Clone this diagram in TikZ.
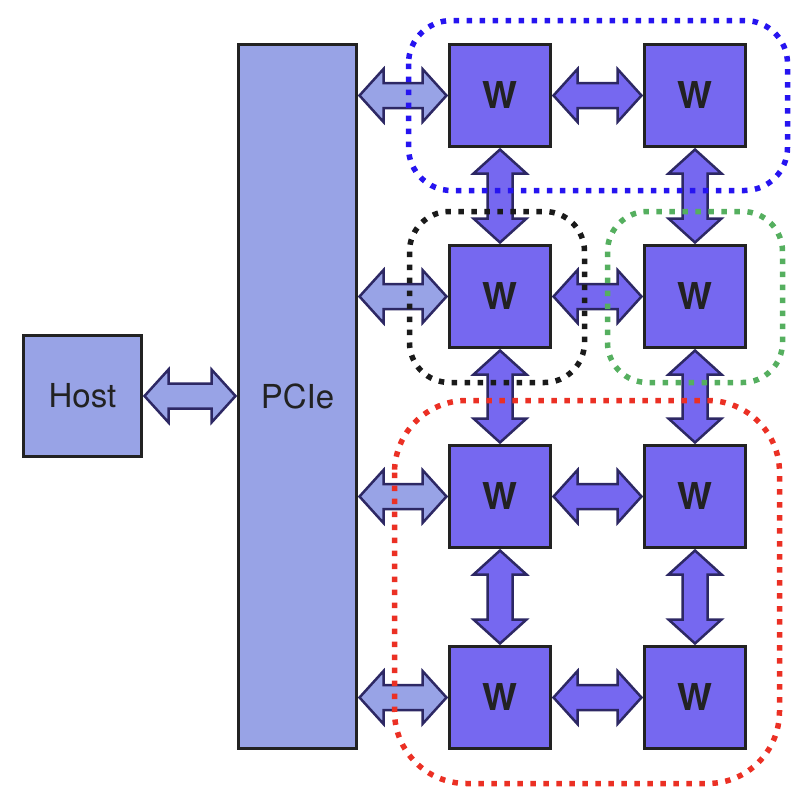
\documentclass[tikz,border=0pt]{standalone}
\usepackage{fontspec}
\setmainfont{TeX Gyre Heros}
\usetikzlibrary{calc}

\definecolor{hostfill}{RGB}{152,163,230}
\definecolor{workerfill}{RGB}{118,104,240}
\definecolor{boxline}{RGB}{34,34,34}
\definecolor{arrowline}{RGB}{45,40,100}
\definecolor{grpblue}{RGB}{38,20,240}
\definecolor{grpblack}{RGB}{26,26,26}
\definecolor{grpgreen}{RGB}{85,175,95}
\definecolor{grpred}{RGB}{235,48,36}

\tikzset{
  box/.style={draw=boxline, line width=3pt, inner sep=0pt, text=boxline},
  hostbox/.style={box, fill=hostfill, font=\fontsize{33}{36}\selectfont},
  worker/.style={box, fill=workerfill, minimum width=101pt, minimum height=102pt,
    font=\bfseries\fontsize{37}{40}\selectfont},
  link/.style={draw=arrowline, line width=2.5pt, line join=miter},
  group/.style={line width=5.5pt, dash pattern=on 5.5pt off 7.5pt, rounded corners=#1},
}

% double block arrow between two points
\newcommand{\biarrow}[3]{%
  \coordinate (s) at ($(#1)!1.5pt!(#2)$);
  \coordinate (t) at ($(#2)!1.5pt!(#1)$);
  \filldraw[link, fill=#3] (s)
    -- ($(s)!24pt!(t)!26.5pt!90:(t)$)
    -- ($(s)!24pt!(t)!12.5pt!90:(t)$)
    -- ($(t)!24pt!(s)!12.5pt!-90:(s)$)
    -- ($(t)!24pt!(s)!26.5pt!-90:(s)$)
    -- (t)
    -- ($(t)!24pt!(s)!26.5pt!90:(s)$)
    -- ($(t)!24pt!(s)!12.5pt!90:(s)$)
    -- ($(s)!24pt!(t)!12.5pt!-90:(t)$)
    -- ($(s)!24pt!(t)!26.5pt!-90:(t)$)
    -- cycle;
}

\begin{document}
\begin{tikzpicture}[x=1pt, y=-1pt]

\useasboundingbox (0,0) rectangle (798,806);

% Host and PCIe
\node[hostbox, minimum width=118pt, minimum height=121pt] (host) at (82.5,396) {Host};
\node[hostbox, minimum width=118pt, minimum height=704pt] (pcie) at (297.5,396.5) {PCIe};

% Workers
\foreach \r/\y in {1/95.5, 2/296.5, 3/496.5, 4/697.5}
  \foreach \c/\x in {1/500, 2/695}
    \node[worker] (w\r\c) at (\x,\y) {W};

% Links
\biarrow{host.east}{host.east -| pcie.west}{hostfill}

\foreach \r in {1,...,4}
  \biarrow{w\r1.west -| pcie.east}{w\r1.west}{hostfill};

\foreach \r in {1,...,4}
  \biarrow{w\r1.east}{w\r2.west}{workerfill};

\foreach \r/\n in {1/2, 2/3, 3/4}
  \foreach \c in {1,2}
    \biarrow{w\r\c.south}{w\n\c.north}{workerfill};

% Groups
\draw[group=43pt, grpblue] (408.5,20.5) rectangle (787.5,190.5);
\draw[group=40pt, grpblack] (409.5,211.5) rectangle (584.5,382.5);
\draw[group=40pt, grpgreen] (607.5,211.5) rectangle (782.5,382.5);
\draw[group=72pt, grpred] (394.5,400.5) rectangle (779.5,783.5);

\end{tikzpicture}
\end{document}
